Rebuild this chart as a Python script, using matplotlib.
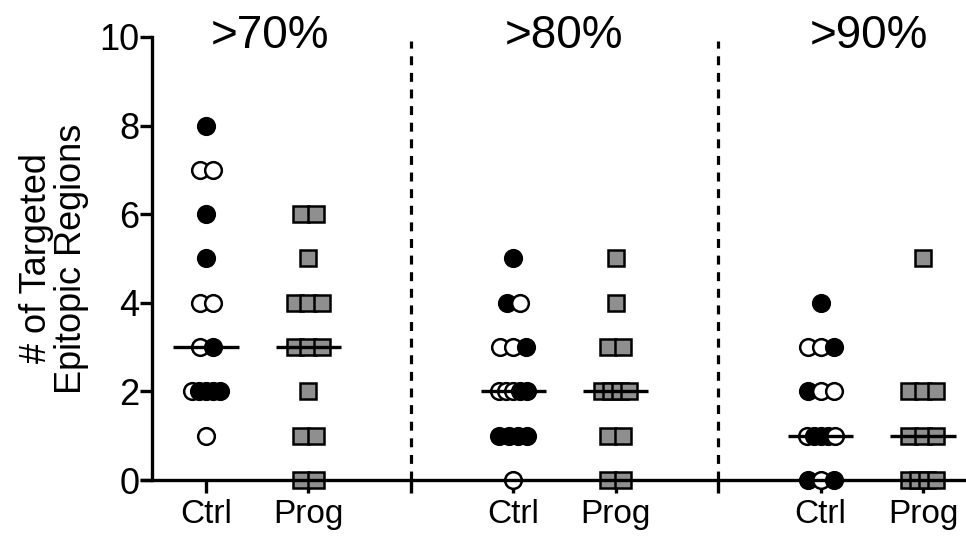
import numpy as np
import matplotlib.pyplot as plt

plt.rcParams['font.family'] = ['Liberation Sans', 'DejaVu Sans']

# values per group, listed row by row (left to right inside a row)
ctrl70 = [8, 7, 7, 6, 5, 4, 4, 3, 3, 2, 2, 2, 2, 2, 1]
ctrl70_filled = [1, 0, 0, 1, 1, 0, 0, 0, 1, 0, 1, 1, 1, 1, 0]
prog70 = [6, 6, 5, 4, 4, 4, 3, 3, 3, 2, 1, 1, 0, 0]

ctrl80 = [5, 4, 4, 3, 3, 3, 2, 2, 2, 2, 2, 1, 1, 1, 1, 0]
ctrl80_filled = [1, 1, 0, 0, 0, 1, 0, 0, 0, 1, 1, 1, 1, 1, 1, 0]
prog80 = [5, 4, 3, 3, 2, 2, 2, 2, 1, 1, 0, 0]

ctrl90 = [4, 3, 3, 3, 2, 2, 2, 1, 1, 1, 1, 1, 0, 0, 0]
ctrl90_filled = [1, 0, 0, 1, 1, 0, 0, 0, 1, 1, 1, 0, 1, 0, 1]
prog90 = [5, 2, 2, 2, 1, 1, 1, 0, 0, 0, 0]

thresholds = ['>70%', '>80%', '>90%']
group_labels = ['Ctrl', 'Prog']

PX = 1 / 102.4  # one pixel in x data units


def spread(values, max_step, span):
    """Side-by-side offsets for points sharing the same value."""
    values = np.asarray(values)
    off = np.zeros(len(values))
    for v in np.unique(values):
        idx = np.where(values == v)[0]
        n = len(idx)
        if n > 1:
            step = min(max_step, span / (n - 1))
            off[idx] = (np.arange(n) - (n - 1) / 2) * step
    return off * PX


fig = plt.figure(figsize=(9.66, 5.4), dpi=100)
ax = fig.add_axes([0.147, 0.1111, 0.853, 0.8204])

ctrl_sets = [(ctrl70, ctrl70_filled), (ctrl80, ctrl80_filled), (ctrl90, ctrl90_filled)]
prog_sets = [prog70, prog80, prog90]

for g in range(3):
    xc = 3 * g
    xp = 3 * g + 1
    vals, filled = ctrl_sets[g]
    dx = spread(vals, 13, 28)
    for v, f, d in zip(vals, filled, dx):
        ax.plot(xc + d, v, 'o', ms=12, mew=1.8, mec='black',
                mfc='black' if f else 'white', clip_on=False, zorder=2)
    pv = prog_sets[g]
    dx = spread(pv, 15, 27)
    for v, d in zip(pv, dx):
        ax.plot(xp + d, v, 's', ms=12.2, mew=1.8, mec='black',
                mfc='#8f8f8f', clip_on=False, zorder=2)

    # medians
    for x, data in ((xc, vals), (xp, pv)):
        m = np.median(data)
        ax.plot([x - 0.32, x + 0.32], [m, m], color='black', lw=2.4,
                solid_capstyle='butt', zorder=3)

    ax.text([0.62, 3.5, 6.47][g], 9.75, thresholds[g], fontsize=33,
            ha='center', va='baseline')

# dotted separators between threshold groups
for xs in (2, 5):
    ax.plot([xs, xs], [0, 9.9], color='black', lw=2.3,
            linestyle=(0, (2.8, 2.4)), clip_on=False, zorder=1)

ax.set_xlim(-0.625, 7.42)
ax.set_ylim(0, 10)
ax.spines['top'].set_visible(False)
ax.spines['right'].set_visible(False)
ax.spines['left'].set_position(('data', -0.527))
ax.spines['left'].set_linewidth(2.4)
ax.spines['bottom'].set_linewidth(2.4)
ax.spines['left'].set_zorder(4)
ax.spines['bottom'].set_zorder(4)

ax.set_yticks(np.arange(0, 11, 2))
ax.set_xticks([0, 1, 2, 3, 4, 5, 6, 7])
ax.set_xticklabels(group_labels + [''] + group_labels + [''] + group_labels)
ax.tick_params(axis='y', length=9, width=2.4, labelsize=26, pad=0)
ax.tick_params(axis='x', length=9, width=2.4, labelsize=24, pad=5)

ax.set_ylabel('# of Targeted\nEpitopic Regions', fontsize=26, linespacing=1.0)
ax.yaxis.set_label_coords(-0.064, 0.5)

fig.savefig('out.png', dpi=100)
